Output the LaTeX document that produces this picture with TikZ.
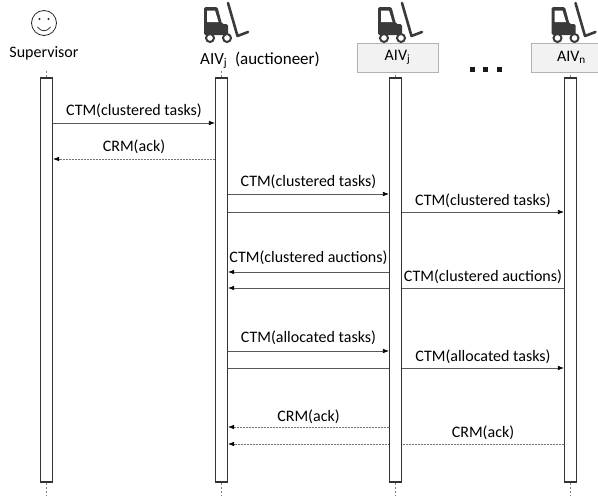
\documentclass[tikz,border=0pt]{standalone}
\usepackage{fontspec}
\setmainfont{Carlito}
\usetikzlibrary{arrows.meta, backgrounds}
\definecolor{iconc}{HTML}{3A3A3A}

\tikzset{
  bar/.style={draw=black!80, fill=white, line width=1.1pt, minimum width=12pt, minimum height=404pt, inner sep=0pt},
  lifeline/.style={draw=black!50, dash pattern=on 2pt off 2pt, line width=0.6pt},
  call/.style={->, draw=black!65, line width=0.6pt},
  reply/.style={->, draw=black!55, dash pattern=on 1.5pt off 1.5pt, line width=0.6pt},
  lbl/.style={font=\fontsize{16}{18}\selectfont, inner sep=0pt},
  namebox/.style={draw=black!30, fill=black!5, minimum width=81pt, minimum height=29pt, inner sep=0pt, font=\fontsize{16}{18}\selectfont},
  forklift/.pic={
    \fill[iconc, rounded corners=1.5pt] (-17.5,7) -- (-4,7) -- (0.5,24) -- (6.5,24) -- (6.5,35) -- (-17.5,35) -- cycle;
    \fill[white] (-14.5,10.5) -- (-6.5,10.5) -- (-3,22) -- (-14.5,22) -- cycle;
    \draw[iconc, line width=2pt, fill=white] (-11.5,38) circle (4) (5.5,38) circle (4);
    \draw[iconc, line width=2.6pt, line cap=round, line join=round] (6.5,3) -- (16,36) -- (26.5,32);
  }
}

\begin{document}
\begin{tikzpicture}[x=1pt,y=-1pt,>={Latex[length=6pt,width=4.5pt,color=black]}]
  \path[use as bounding box, clip] (0,0) rectangle (598,496);

  % heads
  \draw[black!85, line width=0.8pt] (44,23) circle (12.5);
  \fill[black!85] (39.5,19) circle (1.2) (48.5,19) circle (1.2);
  \draw[black!85, line width=0.8pt] (37.5,27) .. controls (41,32) and (47,32) .. (50.5,27);
  \node[lbl] (sup) at (44,53) {Supervisor};

  \pic at (221.5,0) {forklift};
  \node[anchor=base west, inner sep=0pt, font=\fontsize{17}{20}\selectfont] (auc) at (200,64) {AIV\textsubscript{j}\ \ (auctioneer)};

  \node[namebox] (hj) at (397.5,57.5) {AIV\textsubscript{j}};
  \pic at (395.5,0) {forklift};
  \node[namebox] (hn) at (571.5,57.5) {AIV\textsubscript{n}};
  \pic at (569,0) {forklift};

  \foreach \dx in {472,485.5,499}
    \fill[black!90] (\dx-2.5,66.5) rectangle ++(5,5);

  % activation bars
  \node[bar] (bS) at (46.5,280) {};
  \node[bar] (bA) at (221.5,280) {};
  \node[bar] (bJ) at (395.5,280) {};
  \node[bar] (bN) at (570.5,280) {};

  % message rows
  \coordinate (r1) at (0,123);
  \coordinate (r2) at (0,159);
  \coordinate (r3) at (0,194);
  \coordinate (r4) at (0,212);
  \coordinate (r5) at (0,272);
  \coordinate (r6) at (0,288);
  \coordinate (r7) at (0,351);
  \coordinate (r8) at (0,368);
  \coordinate (r9) at (0,427);
  \coordinate (r10) at (0,444);

  \begin{pgfonlayer}{background}
    \foreach \b in {bS,bA,bJ,bN}
      \draw[lifeline] ([yshift=6pt]\b.north) -- ([yshift=-14pt]\b.south);

    \draw[call] (bS.east |- r1) -- (bA.west |- r1) node[lbl, midway, above=5pt] {CTM(clustered tasks)};
    \draw[reply] (bA.west |- r2) -- (bS.east |- r2) node[lbl, midway, above=5pt] {CRM(ack)};

    \draw[call] (bA.east |- r3) -- (bJ.west |- r3) node[lbl, midway, above=5pt] {CTM(clustered tasks)};
    \draw[call] (bA.east |- r4) -- (bN.west |- r4);
    \path (bJ.east |- r4) -- (bN.west |- r4) node[lbl, midway, above=4pt] {CTM(clustered tasks)};

    \draw[call] (bJ.west |- r5) -- (bA.east |- r5) node[lbl, midway, above=7pt] {CTM(clustered auctions)};
    \draw[call] (bN.west |- r6) -- (bA.east |- r6);
    \path (bJ.east |- r6) -- (bN.west |- r6) node[lbl, midway, above=4pt] {CTM(clustered auctions)};

    \draw[call] (bA.east |- r7) -- (bJ.west |- r7) node[lbl, midway, above=6pt] {CTM(allocated tasks)};
    \draw[call] (bA.east |- r8) -- (bN.west |- r8);
    \path (bJ.east |- r8) -- (bN.west |- r8) node[lbl, midway, above=4pt] {CTM(allocated tasks)};

    \draw[reply] (bJ.west |- r9) -- (bA.east |- r9) node[lbl, midway, above=3pt] {CRM(ack)};
    \draw[reply] (bN.west |- r10) -- (bA.east |- r10);
    \path (bJ.east |- r10) -- (bN.west |- r10) node[lbl, midway, above=4pt] {CRM(ack)};
  \end{pgfonlayer}
\end{tikzpicture}
\end{document}
